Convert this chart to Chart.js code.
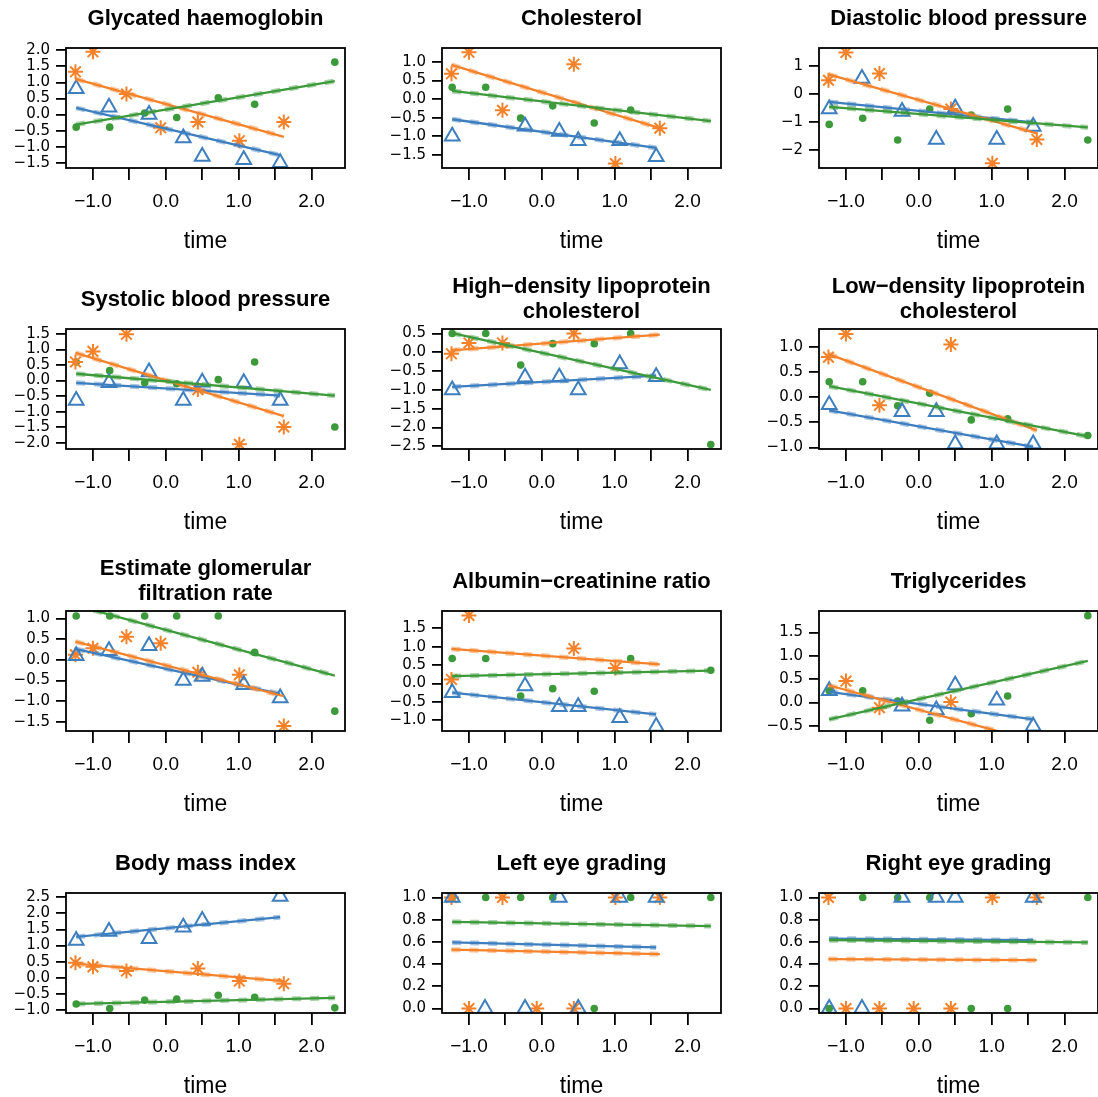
<!DOCTYPE html>
<html>
<head>
<meta charset="utf-8">
<script src="https://cdn.jsdelivr.net/npm/chart.js@4.4.1/dist/chart.umd.min.js"></script>
<style>
  html, body { margin: 0; padding: 0; background: #fff; overflow: hidden; }
  #page { position: relative; width: 1098px; height: 1097px; overflow: hidden; }
  .panel { position: absolute; }
  .title {
    position: absolute;
    transform: translate(-50%, -50%);
    font: bold 22px 'Liberation Sans', Arial, sans-serif;
    line-height: 25px;
    text-align: center;
    white-space: pre;
    color: #000;
  }
</style>
</head>
<body>
<div id="page"></div>
<script>
const titles = [
  'Glycated haemoglobin', 'Cholesterol', 'Diastolic blood pressure',
  'Systolic blood pressure', 'High\u2212density lipoprotein\ncholesterol', 'Low\u2212density lipoprotein\ncholesterol',
  'Estimate glomerular\nfiltration rate', 'Albumin\u2212creatinine ratio', 'Triglycerides',
  'Body mass index', 'Left eye grading', 'Right eye grading',
];

// measurement times of the three groups
const timeBlue = [-1.23, -0.78, -0.23, 0.24, 0.50, 1.07, 1.57];
const timeOrange = [-1.24, -1.00, -0.54, -0.07, 0.44, 1.01, 1.62];
const timeGreen = [-1.23, -0.77, -0.29, 0.15, 0.72, 1.22, 2.32];

// one row per panel, null = not observed
const blueValues = [
  [0.80, 0.23, 0.00, -0.73, -1.30, -1.40, -1.50],
  [-1.00, null, -0.73, -0.87, -1.12, -1.12, -1.55],
  [-0.54, 0.56, -0.63, -1.63, -0.51, -1.63, -1.17],
  [-0.64, -0.07, 0.28, -0.64, -0.05, -0.07, -0.64],
  [-1.00, null, -0.66, -0.66, -1.00, -0.31, -0.65],
  [-0.15, null, -0.29, -0.29, -0.93, -0.93, -0.93],
  [0.10, 0.22, 0.34, -0.50, -0.40, -0.60, -0.92],
  [-0.25, null, -0.07, -0.63, -0.63, -0.93, -1.17],
  [0.25, null, -0.08, -0.16, 0.37, 0.05, -0.51],
  [1.16, 1.44, 1.21, 1.57, 1.78, null, 2.52],
  [1, 0, 0, 1, 0, 1, 1],
  [0, 0, 1, 1, 1, null, 1],
];
const orangeValues = [
  [1.33, 1.95, 0.64, -0.41, -0.23, -0.81, -0.23],
  [0.68, 1.26, -0.30, null, 0.94, -1.73, -0.78],
  [0.50, 1.50, 0.74, null, -0.54, -2.49, -1.63],
  [0.60, 0.94, 1.49, null, -0.29, -2.05, -1.49],
  [-0.04, 0.25, 0.25, null, 0.50, null, null],
  [0.80, 1.26, -0.16, null, 1.05, null, null],
  [0.12, 0.28, 0.56, 0.40, -0.30, -0.36, -1.60],
  [0.11, 1.85, null, null, 0.95, 0.42, null],
  [null, 0.46, -0.11, null, 0.01, null, null],
  [0.47, 0.34, 0.21, null, 0.29, -0.10, -0.18],
  [1, 0, 1, 0, 0, 1, 1],
  [1, 0, 0, 0, 0, 1, 1],
];
const greenValues = [
  [-0.39, -0.39, 0.05, -0.09, 0.52, 0.32, 1.63],
  [0.32, 0.32, -0.51, -0.18, -0.64, -0.29, null],
  [-1.09, -0.87, -1.65, -0.54, -0.75, -0.54, -1.65],
  [0.60, 0.32, -0.07, -0.10, 0.03, 0.60, -1.49],
  [0.50, 0.50, -0.34, 0.23, 0.23, 0.50, -2.45],
  [0.31, 0.31, -0.17, 0.08, -0.45, -0.43, -0.76],
  [1.06, 1.06, 1.06, 1.06, 1.06, 0.18, -1.24],
  [0.68, 0.68, -0.34, -0.14, -0.21, 0.68, 0.36],
  [0.25, 0.25, 0.03, -0.38, -0.24, 0.14, 1.86],
  [-0.81, -0.95, -0.69, -0.66, -0.54, -0.60, -0.93],
  [1, 1, 1, 1, 0, 1, 1],
  [0, 1, 1, 1, 0, 0, 1],
];

// fitted line: value at first and last time of the group
const blueFits = [
  [0.21, -1.26], [-0.54, -1.31], [-0.28, -1.02], [-0.07, -0.48], [-0.92, -0.62], [-0.26, -0.99],
  [0.26, -0.82], [-0.25, -0.84], [0.23, -0.36], [1.27, 1.88], [0.595, 0.55], [0.63, 0.615],
];
const orangeFits = [
  [1.11, -0.69], [0.92, -0.78], [0.71, -1.41], [0.89, -1.14], [0.05, 0.47], [0.86, -0.66],
  [0.44, -0.88], [0.94, 0.52], [0.37, -0.84], [0.44, -0.10], [0.53, 0.49], [0.445, 0.435],
];
const greenFits = [
  [-0.31, 1.04], [0.22, -0.59], [-0.46, -1.20], [0.22, -0.48], [0.51, -1.00], [0.22, -0.78],
  [1.31, -0.38], [0.20, 0.35], [-0.36, 0.89], [-0.81, -0.62], [0.78, 0.742], [0.615, 0.595],
];

const yRanges = [
  [-1.66, 2.07], [-1.85, 1.375], [-2.66, 1.66], [-2.2, 1.66], [-2.57, 0.62], [-1.03, 1.36],
  [-1.72, 1.18], [-1.29, 1.97], [-0.61, 1.96], [-1.09, 2.63], [-0.04, 1.04], [-0.04, 1.04],
];
const yTicks = [
  [-1.5, -1, -0.5, 0, 0.5, 1, 1.5, 2],
  [-1.5, -1, -0.5, 0, 0.5, 1],
  [-2, -1, 0, 1],
  [-2, -1.5, -1, -0.5, 0, 0.5, 1, 1.5],
  [-2.5, -2, -1.5, -1, -0.5, 0, 0.5],
  [-1, -0.5, 0, 0.5, 1],
  [-1.5, -1, -0.5, 0, 0.5, 1],
  [-1, -0.5, 0, 0.5, 1, 1.5],
  [-0.5, 0, 0.5, 1, 1.5],
  [-1, -0.5, 0, 0.5, 1, 1.5, 2, 2.5],
  [0, 0.2, 0.4, 0.6, 0.8, 1],
  [0, 0.2, 0.4, 0.6, 0.8, 1],
];
const yDecimals = [1, 1, 0, 1, 1, 1, 1, 1, 1, 1, 1, 1];
const xTicks = [-1.0, -0.5, 0.0, 0.5, 1.0, 1.5, 2.0];
const xRange = [-1.37, 2.46];

const BLUE = '#3d7ebf';
const ORANGE = '#f5822a';
const GREEN = '#3c9a3a';
const FONT = "'Liberation Sans', Arial, sans-serif";

const colX = [0, 376, 753];
const rowY = [0, 281, 563, 845];

function fmt(v, d) {
  return v.toFixed(d).replace('-', '\u2212');
}

function points(times, values) {
  return times.map((t, i) => ({ x: t, y: values[i] })).filter((p) => p.y !== null);
}

function fitLine(times, fit) {
  return [{ x: times[0], y: fit[0] }, { x: times[times.length - 1], y: fit[1] }];
}

function alpha(hex, a) {
  const n = parseInt(hex.slice(1), 16);
  return `rgba(${n >> 16},${(n >> 8) & 255},${n & 255},${a})`;
}

function lineSets(times, fit, color) {
  return [
    { type: 'line', data: fitLine(times, fit), borderColor: alpha(color, 0.45), borderWidth: 5, borderDash: [9, 9], pointRadius: 0 },
    { type: 'line', data: fitLine(times, fit), borderColor: color, borderWidth: 2.3, pointRadius: 0 },
  ];
}

const boxPlugin = {
  id: 'box',
  afterDatasetsDraw(chart) {
    const { ctx, chartArea: a } = chart;
    ctx.save();
    ctx.strokeStyle = '#000';
    ctx.lineWidth = 1.8;
    ctx.strokeRect(a.left, a.top, a.right - a.left, a.bottom - a.top);
    ctx.restore();
  },
};

const page = document.getElementById('page');

titles.forEach((title, i) => {
  const left = colX[i % 3];
  const top = rowY[Math.floor(i / 3)];

  const canvas = document.createElement('canvas');
  canvas.className = 'panel';
  canvas.width = 376;
  canvas.height = 282;
  canvas.style.left = left + 'px';
  canvas.style.top = top + 'px';
  page.appendChild(canvas);

  const t = document.createElement('div');
  t.className = 'title';
  t.textContent = title;
  t.style.left = (left + 205.5) + 'px';
  t.style.top = (top + 17) + 'px';
  page.appendChild(t);

  new Chart(canvas.getContext('2d'), {
    data: {
      datasets: [
        ...lineSets(timeGreen, greenFits[i], GREEN),
        ...lineSets(timeOrange, orangeFits[i], ORANGE),
        ...lineSets(timeBlue, blueFits[i], BLUE),
        {
          type: 'scatter', data: points(timeBlue, blueValues[i]),
          pointStyle: 'triangle', pointRadius: 8.5, borderWidth: 2,
          borderColor: BLUE, backgroundColor: 'rgba(0,0,0,0)',
        },
        {
          type: 'scatter', data: points(timeOrange, orangeValues[i]),
          pointStyle: 'star', pointRadius: 7.5, borderWidth: 2,
          borderColor: ORANGE, backgroundColor: ORANGE,
        },
        {
          type: 'scatter', data: points(timeGreen, greenValues[i]),
          pointStyle: 'circle', pointRadius: 3.8, borderWidth: 0,
          borderColor: GREEN, backgroundColor: GREEN,
        },
      ],
    },
    options: {
      responsive: false,
      animation: false,
      devicePixelRatio: 1,
      layout: { padding: { top: 48, right: 31, bottom: 0, left: 0 } },
      plugins: { legend: { display: false }, tooltip: { enabled: false }, title: { display: false } },
      scales: {
        x: {
          type: 'linear',
          min: xRange[0],
          max: xRange[1],
          afterBuildTicks: (s) => { s.ticks = xTicks.map((v) => ({ value: v })); },
          afterFit: (s) => { s.height = 114; },
          grid: { drawOnChartArea: false, drawTicks: true, tickLength: 12, color: '#000', lineWidth: 1.8 },
          border: { display: false },
          ticks: {
            autoSkip: false, maxRotation: 0, padding: 10, color: '#000',
            font: { family: FONT, size: 19 },
            callback: (v) => (Number.isInteger(v) ? fmt(v, 1) : ''),
          },
          title: {
            display: true, text: 'time', color: '#000',
            font: { family: FONT, size: 23 },
            padding: { top: 0, bottom: 27 },
          },
        },
        y: {
          type: 'linear',
          min: yRanges[i][0],
          max: yRanges[i][1],
          afterBuildTicks: (s) => { s.ticks = yTicks[i].map((v) => ({ value: v })); },
          afterFit: (s) => { s.width = 66; },
          grid: { drawOnChartArea: false, drawTicks: true, tickLength: 10, color: '#000', lineWidth: 1.8 },
          border: { display: false },
          ticks: {
            autoSkip: false, padding: 6, color: '#000',
            font: { family: "'DejaVu Sans', sans-serif", size: 15 },
            callback: (v) => fmt(v, yDecimals[i]),
          },
        },
      },
    },
    plugins: [boxPlugin],
  });
});
</script>
</body>
</html>
